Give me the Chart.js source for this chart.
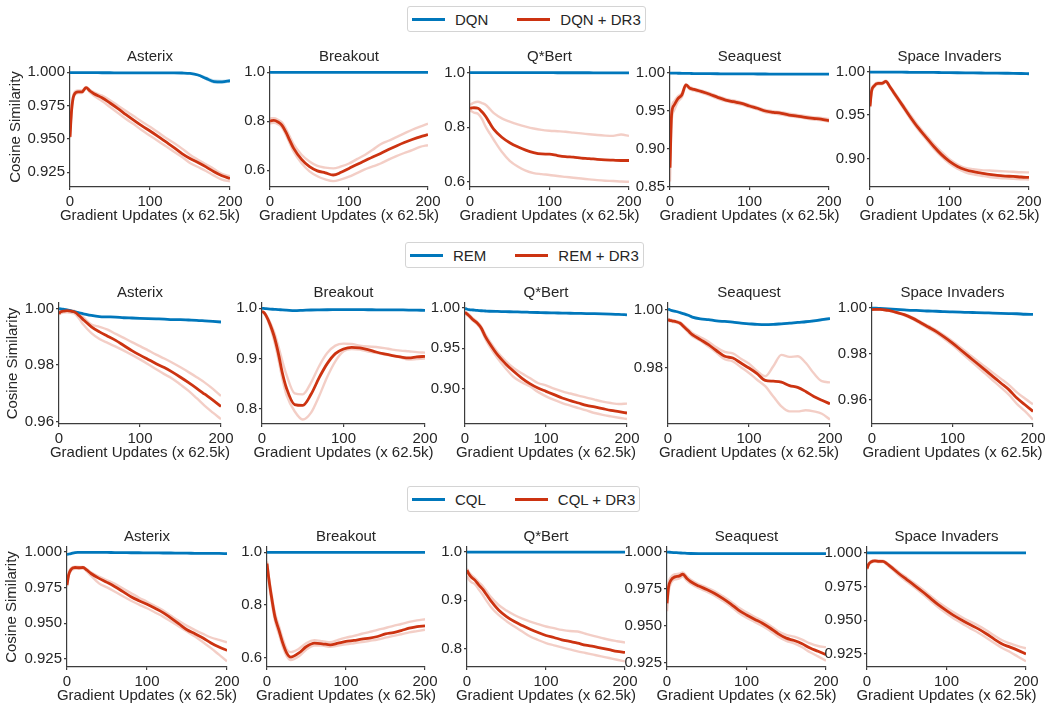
<!DOCTYPE html>
<html>
<head>
<meta charset="utf-8">
<title>Cosine similarity of features</title>
<script src="https://cdn.jsdelivr.net/npm/chart.js@4.4.1/dist/chart.umd.min.js"></script>
<style>
  html, body { margin: 0; padding: 0; background: #fff; }
  #page { position: relative; width: 1045px; height: 706px; overflow: hidden;
          font-family: "Liberation Sans", Arial, sans-serif; color: #262626; }
  #page canvas { position: absolute; }
  .legend { position: absolute; height: 24px; display: flex; align-items: center;
            border: 1px solid #d4d4d4; border-radius: 3px; background: #fff;
            padding: 0 4px 0 4px; font-size: 15px; white-space: nowrap; }
  .legend .swatch { display: inline-block; width: 33px; height: 3px; margin-right: 10px; vertical-align: middle; }
  .legend .item { display: flex; align-items: center; }
  .legend .item + .item { margin-left: 29px; }
</style>
</head>
<body>
<div id="page"></div>
<script>
// gradient steps (x 62.5k) shared by every curve
const steps = [0, 2, 5, 10, 15, 20, 25, 30, 40, 50, 60, 70, 80, 90, 100, 110, 120, 130, 140, 150, 160, 170, 180, 190, 200];
const games = ['Asterix', 'Breakout', 'Q*Bert', 'Seaquest', 'Space Invaders'];
const xTicks = ['0', '100', '200'];

// ---- DQN ----
const dqnBase = [
  [0.9998,0.9998,0.9998,0.9998,0.9998,0.9998,0.9998,0.9998,0.9997,0.9997,0.9996,0.9996,0.9996,0.9996,0.9996,0.9996,0.9996,0.9996,0.9995,0.9992,0.998,0.9955,0.993,0.9928,0.9937],
  [0.9995,0.9995,0.9995,0.9995,0.9995,0.9995,0.9995,0.9995,0.9995,0.9995,0.9995,0.9995,0.9995,0.9995,0.9995,0.9995,0.9995,0.9995,0.9995,0.9995,0.9995,0.9995,0.9995,0.9995,0.9995],
  [0.9995,0.9995,0.9995,0.9995,0.9995,0.9995,0.9995,0.9995,0.9994,0.9993,0.9993,0.9992,0.9992,0.9991,0.9991,0.999,0.999,0.999,0.9989,0.9989,0.9988,0.9988,0.9987,0.9987,0.9986],
  [0.9995,0.9995,0.9994,0.9993,0.9992,0.9991,0.999,0.9989,0.9988,0.9987,0.9986,0.9985,0.9985,0.9984,0.9984,0.9983,0.9983,0.9982,0.9982,0.9981,0.9981,0.9981,0.998,0.998,0.998],
  [0.9995,0.9995,0.9995,0.9995,0.9994,0.9994,0.9994,0.9993,0.9993,0.9992,0.9991,0.999,0.999,0.9989,0.9988,0.9987,0.9986,0.9985,0.9984,0.9983,0.9982,0.9981,0.998,0.9978,0.9975]
];
// spread of the DQN runs, only visible on Asterix
const dqnBaseHi = [
  [0.9999,0.9999,0.9999,0.9999,0.9999,0.9999,0.9999,0.9999,0.9998,0.9998,0.9997,0.9997,0.9997,0.9997,0.9997,0.9997,0.9997,0.9997,0.9997,0.9996,0.9989,0.997,0.9948,0.9945,0.9948],
  null, null, null, null
];
const dqnBaseLo = [
  [0.9997,0.9997,0.9997,0.9997,0.9997,0.9997,0.9997,0.9997,0.9996,0.9996,0.9995,0.9995,0.9995,0.9995,0.9995,0.9995,0.9995,0.9995,0.9993,0.9988,0.997,0.994,0.9915,0.9912,0.9925],
  null, null, null, null
];
const dqnDr3 = [
  [0.9516,0.9716,0.983,0.9853,0.9853,0.9885,0.986,0.984,0.981,0.977,0.9728,0.9683,0.964,0.9598,0.956,0.952,0.9478,0.9436,0.9391,0.9354,0.9324,0.9291,0.9254,0.9224,0.9204],
  [0.80,0.802,0.803,0.797,0.784,0.756,0.722,0.689,0.644,0.614,0.597,0.589,0.58,0.591,0.607,0.623,0.638,0.654,0.668,0.684,0.699,0.713,0.725,0.736,0.745],
  [0.869,0.87,0.871,0.869,0.856,0.838,0.814,0.792,0.763,0.743,0.728,0.716,0.707,0.702,0.701,0.696,0.692,0.69,0.687,0.685,0.682,0.68,0.679,0.678,0.678],
  [0.875,0.945,0.957,0.966,0.971,0.984,0.9795,0.978,0.975,0.9716,0.9676,0.964,0.9618,0.9597,0.9562,0.9532,0.9496,0.9479,0.9466,0.9443,0.943,0.9413,0.94,0.939,0.9368],
  [0.960,0.9776,0.9833,0.9865,0.9865,0.9888,0.9826,0.9757,0.9622,0.9486,0.9359,0.9248,0.9139,0.9043,0.8965,0.8907,0.8869,0.8846,0.8831,0.8815,0.8803,0.8796,0.8792,0.8785,0.878]
];
const dqnDr3Hi = [
  [0.952,0.973,0.9845,0.9865,0.9865,0.989,0.9868,0.985,0.9825,0.979,0.975,0.971,0.967,0.963,0.9592,0.955,0.9508,0.947,0.9428,0.9382,0.9345,0.931,0.9275,0.9238,0.922],
  [0.81,0.812,0.812,0.806,0.795,0.77,0.737,0.705,0.663,0.635,0.617,0.61,0.607,0.615,0.627,0.645,0.662,0.683,0.706,0.72,0.735,0.75,0.765,0.778,0.79],
  [0.881,0.885,0.89,0.893,0.888,0.881,0.866,0.851,0.832,0.82,0.81,0.802,0.795,0.79,0.787,0.785,0.783,0.78,0.777,0.774,0.771,0.769,0.768,0.773,0.768],
  [0.885,0.952,0.962,0.969,0.973,0.985,0.981,0.979,0.9765,0.973,0.969,0.9655,0.9635,0.961,0.9577,0.9545,0.951,0.9493,0.948,0.946,0.9445,0.943,0.9415,0.9405,0.939],
  [0.961,0.979,0.9845,0.9875,0.9875,0.9895,0.9835,0.977,0.964,0.951,0.9385,0.9275,0.9168,0.9075,0.899,0.893,0.889,0.8875,0.8865,0.886,0.8855,0.885,0.8845,0.884,0.8838]
];
const dqnDr3Lo = [
  [0.951,0.970,0.982,0.9845,0.9845,0.988,0.985,0.9825,0.9785,0.974,0.9695,0.965,0.961,0.9565,0.9525,0.9485,0.9445,0.9405,0.9365,0.932,0.929,0.926,0.9225,0.9195,0.9182],
  [0.79,0.792,0.793,0.788,0.775,0.745,0.71,0.675,0.628,0.595,0.575,0.562,0.555,0.562,0.573,0.588,0.603,0.615,0.627,0.643,0.657,0.67,0.682,0.695,0.702],
  [0.862,0.858,0.853,0.849,0.83,0.80,0.776,0.753,0.71,0.677,0.656,0.641,0.632,0.628,0.625,0.621,0.618,0.615,0.612,0.609,0.606,0.604,0.603,0.601,0.60],
  [0.857,0.935,0.950,0.962,0.968,0.982,0.978,0.9765,0.9735,0.970,0.966,0.9625,0.960,0.958,0.9547,0.9518,0.948,0.9465,0.945,0.9428,0.9415,0.940,0.9385,0.9375,0.9355],
  [0.959,0.976,0.982,0.9855,0.9855,0.988,0.9815,0.9745,0.9605,0.9465,0.9338,0.9225,0.9115,0.902,0.894,0.888,0.884,0.8815,0.88,0.8785,0.8775,0.877,0.8765,0.876,0.8755]
];
const dqnTicks = [['0.925','0.950','0.975','1.000'], ['0.6','0.8','1.0'], ['0.6','0.8','1.0'], ['0.85','0.90','0.95','1.00'], ['0.90','0.95','1.00']];
const dqnLimits = [[0.914, 1.004], [0.531, 1.0216], [0.581, 1.020], [0.8496, 1.0075], [0.867, 1.0053]];

// ---- REM ----
const remBase = [
  [1.0,0.9998,0.9997,0.9995,0.9991,0.9988,0.9984,0.9981,0.9975,0.9971,0.997,0.9969,0.9967,0.9966,0.9965,0.9964,0.9963,0.9962,0.996,0.996,0.9959,0.9958,0.9956,0.9954,0.9952],
  [1.0,0.9998,0.9993,0.9986,0.998,0.9974,0.997,0.9965,0.9954,0.996,0.9967,0.997,0.9972,0.9973,0.9974,0.9974,0.9973,0.9972,0.9971,0.997,0.997,0.9968,0.9966,0.9963,0.996],
  [0.9995,0.9988,0.998,0.9975,0.997,0.9966,0.9963,0.996,0.9957,0.9955,0.9952,0.995,0.9947,0.9944,0.9941,0.9939,0.9937,0.9935,0.9933,0.9931,0.993,0.9928,0.9925,0.9921,0.9915],
  [1.0002,0.9999,0.9996,0.9993,0.9989,0.9985,0.998,0.9974,0.9968,0.9965,0.9961,0.9959,0.9957,0.9953,0.9951,0.9949,0.9948,0.9949,0.9951,0.9953,0.9956,0.9958,0.9961,0.9965,0.9969],
  [1.0,1.0,0.9999,0.9998,0.9997,0.9996,0.9995,0.9994,0.9992,0.999,0.9989,0.9987,0.9986,0.9984,0.9983,0.9982,0.9981,0.998,0.9979,0.9978,0.9977,0.9976,0.9975,0.9973,0.9972]
];
// spread of the REM runs, only visible on Seaquest
const remBaseHi = [
  null, null, null,
  [1.0003,1.0,0.9997,0.9994,0.999,0.9986,0.9981,0.9975,0.997,0.9967,0.9963,0.9961,0.9959,0.9955,0.9953,0.9952,0.9951,0.9953,0.9955,0.9957,0.996,0.9963,0.9966,0.997,0.9974],
  null
];
const remBaseLo = [
  null, null, null,
  [1.0001,0.9998,0.9995,0.9992,0.9988,0.9984,0.9979,0.9973,0.9966,0.9963,0.9959,0.9957,0.9955,0.9951,0.9949,0.9946,0.9945,0.9945,0.9947,0.9949,0.9952,0.9953,0.9956,0.996,0.9964],
  null
];
const remDr3 = [
  [0.9981,0.9988,0.999,0.9992,0.999,0.9986,0.9974,0.996,0.9935,0.9917,0.9902,0.9887,0.9869,0.9851,0.9835,0.982,0.9805,0.9791,0.9775,0.9757,0.9738,0.9718,0.9697,0.9676,0.9654],
  [0.994,0.992,0.9854,0.9676,0.944,0.911,0.8715,0.8417,0.8086,0.807,0.8285,0.8616,0.89,0.91,0.9192,0.9225,0.9212,0.9179,0.9132,0.9093,0.906,0.9033,0.9013,0.9033,0.9046],
  [0.9946,0.993,0.9905,0.9855,0.9814,0.9752,0.9649,0.9566,0.9421,0.931,0.9215,0.9132,0.9062,0.9008,0.8967,0.8926,0.8884,0.8851,0.8822,0.8793,0.8773,0.8752,0.8731,0.8715,0.8698],
  [0.9965,0.9963,0.9961,0.9958,0.9953,0.994,0.9927,0.9914,0.9897,0.988,0.9859,0.984,0.9834,0.9817,0.98,0.9781,0.9758,0.9755,0.9752,0.974,0.9734,0.972,0.9703,0.969,0.9678],
  [0.9993,0.9994,0.9994,0.9994,0.9992,0.999,0.9986,0.9981,0.9971,0.9956,0.9937,0.9917,0.9897,0.9873,0.9847,0.9818,0.9789,0.976,0.9731,0.9702,0.9673,0.9644,0.9607,0.9578,0.9549]
];
const remDr3Hi = [
  [0.9993,0.9994,0.9994,0.9994,0.9993,0.999,0.998,0.9968,0.9943,0.9935,0.9925,0.991,0.9896,0.9881,0.9867,0.9852,0.9837,0.9823,0.9808,0.9792,0.9775,0.9757,0.9738,0.9716,0.9691],
  [0.995,0.993,0.987,0.972,0.952,0.925,0.895,0.868,0.831,0.829,0.8517,0.8848,0.911,0.9258,0.9298,0.929,0.9258,0.924,0.9232,0.921,0.918,0.916,0.9146,0.913,0.912],
  [0.9958,0.9945,0.992,0.987,0.9828,0.977,0.9675,0.9595,0.9455,0.9345,0.9256,0.919,0.9132,0.907,0.9041,0.9,0.8967,0.894,0.8913,0.889,0.8864,0.884,0.8822,0.881,0.8814],
  [0.9968,0.9966,0.9963,0.996,0.9956,0.9945,0.9933,0.992,0.9905,0.989,0.987,0.9855,0.985,0.9832,0.9815,0.979,0.9772,0.9806,0.9845,0.9838,0.984,0.9818,0.9782,0.9755,0.9751],
  [0.9994,0.9995,0.9995,0.9995,0.9993,0.9991,0.9987,0.9983,0.9973,0.9959,0.9941,0.9922,0.9903,0.988,0.9855,0.9828,0.98,0.9772,0.9745,0.9718,0.9692,0.9665,0.9632,0.9605,0.958]
];
const remDr3Lo = [
  [0.9978,0.9983,0.9985,0.9986,0.9984,0.998,0.9963,0.9943,0.9913,0.9892,0.9878,0.9865,0.9851,0.9836,0.982,0.9803,0.9785,0.9768,0.9752,0.9731,0.9709,0.9683,0.9656,0.9632,0.9609],
  [0.993,0.991,0.984,0.963,0.935,0.90,0.86,0.828,0.7954,0.7788,0.792,0.8252,0.8636,0.8947,0.9146,0.9192,0.9179,0.914,0.9113,0.908,0.906,0.902,0.898,0.899,0.90],
  [0.9935,0.9915,0.989,0.984,0.98,0.973,0.962,0.953,0.938,0.9255,0.9145,0.908,0.9029,0.896,0.8905,0.886,0.8822,0.879,0.876,0.873,0.8698,0.8675,0.8657,0.864,0.8624],
  [0.9962,0.996,0.9958,0.9955,0.995,0.9936,0.9922,0.9908,0.9893,0.9873,0.9852,0.983,0.9823,0.9803,0.9783,0.976,0.9738,0.9703,0.9669,0.9652,0.9652,0.9656,0.9652,0.9644,0.9624],
  [0.9992,0.9993,0.9993,0.9993,0.9991,0.9989,0.9984,0.9979,0.9968,0.9952,0.9932,0.9911,0.989,0.9865,0.9838,0.9808,0.9777,0.9747,0.9716,0.9685,0.9654,0.9622,0.9582,0.955,0.9513]
];
const remTicks = [['0.96','0.98','1.00'], ['0.8','0.9','1.0'], ['0.90','0.95','1.00'], ['0.98','1.00'], ['0.96','0.98','1.00']];
const remLimits = [[0.9592, 1.0019], [0.770, 1.0106], [0.8562, 1.0062], [0.9609, 1.0022], [0.9494, 1.0022]];

// ---- CQL ----
const cqlBase = [
  [0.9979,0.9983,0.9986,0.9993,0.9994,0.9995,0.9995,0.9995,0.9994,0.9994,0.9993,0.9993,0.9992,0.9992,0.9991,0.9991,0.999,0.999,0.9989,0.9989,0.9988,0.9988,0.9987,0.9987,0.9986],
  [0.9995,0.9995,0.9995,0.9995,0.9995,0.9995,0.9995,0.9995,0.9995,0.9995,0.9995,0.9995,0.9995,0.9995,0.9995,0.9995,0.9995,0.9995,0.9995,0.9995,0.9995,0.9995,0.9995,0.9995,0.9995],
  [0.9995,0.9995,0.9995,0.9995,0.9995,0.9995,0.9995,0.9995,0.9995,0.9995,0.9995,0.9995,0.9995,0.9995,0.9995,0.9995,0.9995,0.9995,0.9995,0.9995,0.9995,0.9995,0.9995,0.9995,0.9995],
  [1.0,0.9999,0.9998,0.9996,0.9994,0.9993,0.9991,0.999,0.9989,0.9989,0.9989,0.9989,0.9989,0.9989,0.9989,0.9989,0.9989,0.9989,0.9989,0.9989,0.9989,0.9989,0.9989,0.9989,0.9989],
  [0.9998,0.9998,0.9998,0.9998,0.9998,0.9998,0.9998,0.9998,0.9998,0.9998,0.9998,0.9998,0.9998,0.9998,0.9998,0.9998,0.9998,0.9998,0.9998,0.9998,0.9998,0.9998,0.9998,0.9998,0.9998]
];
const cqlBaseHi = [null, null, null, null, null];
const cqlBaseLo = [null, null, null, null, null];
const cqlDr3 = [
  [0.9766,0.9836,0.9875,0.9889,0.9887,0.9889,0.987,0.9847,0.9813,0.9785,0.9755,0.972,0.9685,0.9657,0.9632,0.9604,0.9574,0.9535,0.9495,0.9454,0.9426,0.9396,0.9361,0.9333,0.931],
  [0.957,0.9066,0.8435,0.7552,0.7047,0.6543,0.6164,0.6013,0.616,0.6416,0.6543,0.6518,0.648,0.6543,0.6606,0.6644,0.6694,0.6732,0.6795,0.6896,0.6946,0.7022,0.711,0.7173,0.72],
  [0.9622,0.9553,0.9485,0.9416,0.9313,0.9223,0.9107,0.899,0.8797,0.866,0.8557,0.8474,0.8399,0.833,0.8268,0.8227,0.8179,0.8144,0.811,0.8069,0.8041,0.8007,0.7973,0.7938,0.7918],
  [0.9653,0.9765,0.981,0.9832,0.9837,0.985,0.9821,0.9799,0.977,0.9747,0.972,0.9687,0.965,0.9608,0.9575,0.9546,0.9519,0.9485,0.9447,0.9418,0.9402,0.938,0.9351,0.9329,0.9306],
  [0.9882,0.9914,0.9931,0.9939,0.9936,0.9936,0.9919,0.9895,0.9846,0.9801,0.9757,0.9711,0.9662,0.9613,0.9571,0.9532,0.9498,0.9466,0.9436,0.94,0.936,0.9324,0.9301,0.9277,0.925]
];
const cqlDr3Hi = [
  [0.9775,0.9845,0.9885,0.9895,0.9893,0.9893,0.9876,0.9855,0.9825,0.98,0.9775,0.9742,0.971,0.9678,0.965,0.962,0.959,0.9552,0.9515,0.9481,0.9452,0.9425,0.94,0.9383,0.9366],
  [0.965,0.915,0.855,0.77,0.72,0.67,0.63,0.62,0.632,0.655,0.665,0.662,0.658,0.667,0.675,0.682,0.69,0.697,0.705,0.712,0.72,0.727,0.735,0.741,0.745],
  [0.965,0.959,0.953,0.946,0.937,0.929,0.918,0.907,0.89,0.8785,0.8694,0.862,0.8557,0.8505,0.8454,0.842,0.8385,0.836,0.835,0.8305,0.8261,0.822,0.8179,0.815,0.8124],
  [0.968,0.979,0.983,0.985,0.9853,0.9862,0.9835,0.9812,0.9782,0.976,0.9735,0.9702,0.9666,0.9625,0.9592,0.9562,0.9535,0.9502,0.9465,0.944,0.9428,0.9408,0.9382,0.9365,0.9357],
  [0.989,0.992,0.9937,0.9944,0.9942,0.9941,0.9926,0.9903,0.9858,0.9815,0.9772,0.9728,0.968,0.9633,0.9592,0.9555,0.952,0.949,0.946,0.9426,0.9387,0.9352,0.9328,0.9308,0.9292]
];
const cqlDr3Lo = [
  [0.9758,0.9828,0.9866,0.988,0.9879,0.9882,0.986,0.9832,0.9778,0.975,0.972,0.9688,0.9657,0.963,0.9604,0.9575,0.9546,0.9512,0.9477,0.9442,0.9407,0.9367,0.9326,0.928,0.9234],
  [0.95,0.895,0.83,0.74,0.69,0.64,0.605,0.59,0.603,0.63,0.645,0.645,0.64,0.645,0.65,0.654,0.658,0.663,0.668,0.675,0.682,0.688,0.695,0.70,0.705],
  [0.95,0.944,0.938,0.9333,0.922,0.9107,0.898,0.8866,0.8694,0.8565,0.8454,0.835,0.8247,0.8175,0.811,0.8065,0.8021,0.798,0.7938,0.7905,0.787,0.7835,0.7801,0.7765,0.7732],
  [0.96,0.973,0.979,0.9815,0.982,0.9835,0.9806,0.9785,0.9755,0.9732,0.9705,0.967,0.9634,0.959,0.9556,0.9528,0.9501,0.9466,0.9428,0.94,0.9382,0.9356,0.9323,0.9295,0.9266],
  [0.9874,0.9907,0.9925,0.9934,0.993,0.993,0.9911,0.9886,0.9833,0.9787,0.9741,0.9693,0.9643,0.9593,0.955,0.951,0.9475,0.944,0.9408,0.937,0.9332,0.9295,0.9265,0.923,0.9196]
];
const cqlTicks = [['0.925','0.950','0.975','1.000'], ['0.6','0.8','1.0'], ['0.8','0.9','1.0'], ['0.925','0.950','0.975','1.000'], ['0.925','0.950','0.975','1.000']];
const cqlLimits = [[0.9194, 1.0032], [0.5634, 1.0202], [0.7615, 1.0103], [0.9223, 1.0034], [0.9154, 1.0042]];

const BLUE = '#0077bb';
const BLUE_BAND = 'rgba(0, 119, 187, 0.22)';
const RED = '#cc3311';
const FAINT = 'rgba(204, 51, 17, 0.24)';
const TEXT = '#262626';
const AXIS = '#3c3c3c';
const FONT = '"Liberation Sans", Arial, sans-serif';
const X_LABEL = 'Gradient Updates (x 62.5k)';

const TITLE_H = 23;   // title line + padding above each axes box
const X_H = 38;       // x ticks + x label below the axes box
const PAD_R = 16;     // room for the "200" label
const Y_W = 45;       // tick label column for inner panels

const rows = [
  { name: 'DQN', top: 67, height: 120, legendTop: 6, legendLeft: 407,
    lefts: [70, 270, 470, 670, 870], rights: [230, 428, 629, 829, 1029], yTitleX: 16,
    base: dqnBase, baseHi: dqnBaseHi, baseLo: dqnBaseLo,
    dr3: dqnDr3, hi: dqnDr3Hi, lo: dqnDr3Lo, ticks: dqnTicks, limits: dqnLimits },
  { name: 'REM', top: 303, height: 121, legendTop: 242, legendLeft: 405,
    lefts: [59, 262, 465, 668, 872], rights: [221, 425, 627, 830, 1033], yTitleX: 12.5,
    base: remBase, baseHi: remBaseHi, baseLo: remBaseLo,
    dr3: remDr3, hi: remDr3Hi, lo: remDr3Lo, ticks: remTicks, limits: remLimits },
  { name: 'CQL', top: 547, height: 120, legendTop: 486, legendLeft: 407,
    lefts: [67, 267, 467, 667, 867], rights: [227, 425, 625, 826, 1026], yTitleX: 12,
    base: cqlBase, baseHi: cqlBaseHi, baseLo: cqlBaseLo,
    dr3: cqlDr3, hi: cqlDr3Hi, lo: cqlDr3Lo, ticks: cqlTicks, limits: cqlLimits }
];

const page = document.getElementById('page');

// x label drawn at full width (the scale title would squeeze it into the axis width)
const xLabel = {
  id: 'xLabel',
  afterDraw(chart, args, opts) {
    const { ctx, chartArea } = chart;
    ctx.save();
    ctx.font = '15px ' + FONT;
    ctx.fillStyle = TEXT;
    ctx.textAlign = 'center';
    ctx.textBaseline = 'middle';
    ctx.fillText(opts.text, (chartArea.left + chartArea.right) / 2, chartArea.bottom + opts.offset);
    ctx.restore();
  }
};

function series(values, color, width, order) {
  return {
    data: steps.map((x, k) => ({ x: x, y: values[k] })),
    borderColor: color,
    borderWidth: width,
    pointRadius: 0,
    fill: false,
    cubicInterpolationMode: 'monotone',
    order: order
  };
}

function addLegend(row) {
  const box = document.createElement('div');
  box.className = 'legend';
  box.style.left = row.legendLeft + 'px';
  box.style.top = row.legendTop + 'px';
  [[row.name, BLUE], [row.name + ' + DR3', RED]].forEach(([label, color]) => {
    const item = document.createElement('span');
    item.className = 'item';
    item.innerHTML = '<span class="swatch" style="background:' + color + '"></span>' + label;
    box.appendChild(item);
  });
  page.appendChild(box);
}

function addPanel(row, i) {
  const yw = i === 0 ? row.lefts[0] : Y_W;
  const plotW = row.rights[i] - row.lefts[i];
  const canvas = document.createElement('canvas');
  canvas.width = yw + plotW + PAD_R;
  canvas.height = TITLE_H + row.height + X_H;
  canvas.style.left = (row.lefts[i] - yw) + 'px';
  canvas.style.top = (row.top - TITLE_H) + 'px';
  page.appendChild(canvas);

  const labels = row.ticks[i];
  const font = { family: FONT, size: 15, weight: 'normal' };
  const grid = { display: true, drawOnChartArea: false, drawTicks: true, tickLength: 3, color: AXIS, lineWidth: 1.2 };
  const border = { display: true, color: AXIS, width: 1.2 };

  const datasets = [
    series(row.dr3[i], RED, 2.8, 0),
    series(row.base[i], BLUE, 2.8, 1),
    series(row.hi[i], FAINT, 2.4, 2),
    series(row.lo[i], FAINT, 2.4, 2)
  ];
  if (row.baseHi[i]) {
    const lo = series(row.baseLo[i], 'rgba(0,0,0,0)', 0, 3);
    const hi = series(row.baseHi[i], 'rgba(0,0,0,0)', 0, 3);
    hi.fill = '-1';
    hi.backgroundColor = BLUE_BAND;
    datasets.push(lo, hi);
  }

  new Chart(canvas, {
    type: 'line',
    data: { datasets: datasets },
    plugins: [xLabel],
    options: {
      responsive: false,
      animation: false,
      devicePixelRatio: 1,
      layout: { padding: { top: 0, right: PAD_R, bottom: 0, left: 0 } },
      plugins: {
        legend: { display: false },
        tooltip: { enabled: false },
        title: {
          display: true, text: games[i], fullSize: false, color: TEXT, font: font,
          padding: { top: 4, bottom: 1 }
        },
        xLabel: { text: X_LABEL, offset: 29 }
      },
      scales: {
        x: {
          type: 'linear', min: 0, max: 200,
          afterBuildTicks: s => { s.ticks = xTicks.map(v => ({ value: Number(v) })); },
          afterFit: s => { s.height = X_H; },
          ticks: { color: TEXT, font: font, padding: 3, maxRotation: 0, autoSkip: false,
                   callback: (v, k) => xTicks[k] },
          grid: grid, border: border
        },
        y: {
          type: 'linear', min: row.limits[i][0], max: row.limits[i][1],
          afterBuildTicks: s => { s.ticks = labels.map(v => ({ value: Number(v) })); },
          afterFit: s => { s.width = yw; },
          ticks: { color: TEXT, font: font, padding: 2, autoSkip: false,
                   callback: (v, k) => labels[k] },
          grid: grid, border: border,
          title: { display: i === 0, text: 'Cosine Similarity', color: TEXT, font: font,
                   padding: { top: row.yTitleX - 9, bottom: 0 } }
        }
      }
    }
  });
}

rows.forEach(row => {
  addLegend(row);
  games.forEach((g, i) => addPanel(row, i));
});
</script>
</body>
</html>
